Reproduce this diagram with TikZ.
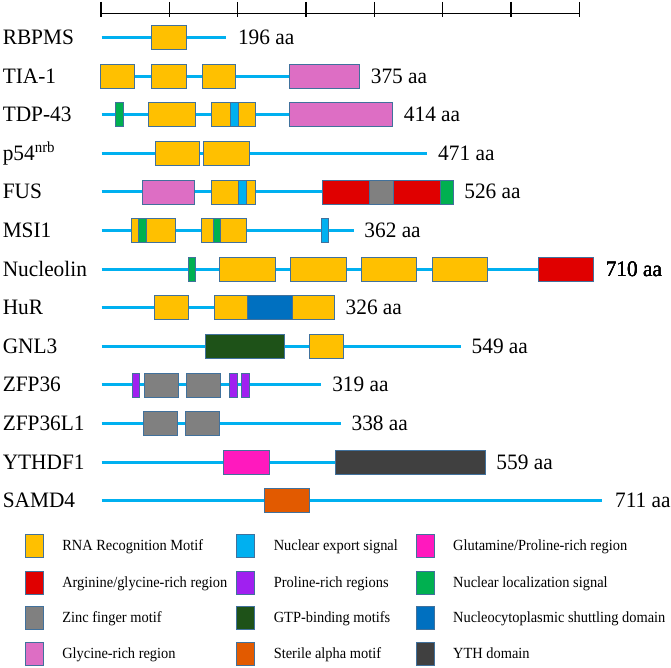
\documentclass[tikz,border=0pt]{standalone}
\usepackage{fontspec}
\setmainfont{Liberation Serif}
\newfontfamily\protfont[FakeStretch=0.97]{Liberation Serif}
\newfontfamily\keyfont[FakeStretch=0.93]{Liberation Serif}
\definecolor{rrm}{RGB}{255,192,0}
\definecolor{nes}{RGB}{0,176,240}
\definecolor{qp}{RGB}{255,25,190}
\definecolor{rg}{RGB}{224,0,0}
\definecolor{pro}{RGB}{160,32,240}
\definecolor{nls}{RGB}{0,176,80}
\definecolor{zf}{RGB}{128,128,128}
\definecolor{gtp}{RGB}{30,82,24}
\definecolor{ncs}{RGB}{0,112,192}
\definecolor{gly}{RGB}{221,110,196}
\definecolor{sam}{RGB}{226,90,0}
\definecolor{yth}{RGB}{64,64,64}
\definecolor{edge}{RGB}{65,113,156}
\tikzset{
  backbone/.style={line width=3pt, nes},
  dombox/.style={draw=edge, line width=0.8pt},
  protname/.style={anchor=base west, inner sep=0pt, font=\protfont\fontsize{22}{22}\selectfont},
  keytext/.style={anchor=base west, inner sep=0pt, font=\keyfont\fontsize{15.5}{15.5}\selectfont}
}
\newcommand{\dom}[4]{\draw[dombox, fill=#1] (#2,#4-12) rectangle (#3,#4+12);}

\begin{document}
\begin{tikzpicture}[x=1.2857pt, y=-1pt]
  \useasboundingbox (0,0) rectangle (521.9,668);

  % scale bar
  \draw[line width=1.3pt] (78.5,13.5) -- (450.5,13.5);
  \foreach \k in {0,...,7}
    \draw[line width=1.3pt] (78.5+53.14*\k,2) -- ++(0,15);

  % RBPMS
  \node[protname] (rbpms) at (2,44.6) {RBPMS};
  \draw[backbone] (79,37.6) -- (176,37.6);
  \dom{rrm}{118}{144.7}{37.6}
  \node[protname] (rbpms aa) at (185,44.6) {196 aa};

  % TIA-1
  \node[protname] (tia) at (2,83.2) {TIA-1};
  \draw[backbone] (79,76.2) -- (225,76.2);
  \dom{rrm}{78}{104.3}{76.2}
  \dom{rrm}{118}{144.7}{76.2}
  \dom{rrm}{157.3}{183.3}{76.2}
  \dom{gly}{225}{279.3}{76.2}
  \node[protname] (tia aa) at (288.3,83.2) {375 aa};

  % TDP-43
  \node[protname] (tdp) at (2,121.8) {TDP-43};
  \draw[backbone] (79,114.8) -- (225,114.8);
  \dom{nls}{90}{95.7}{114.8}
  \dom{rrm}{115.7}{152}{114.8}
  \dom{rrm}{164.7}{199}{114.8}
  \dom{nes}{179.3}{185.3}{114.8}
  \dom{gly}{225}{305}{114.8}
  \node[protname] (tdp aa) at (314,121.8) {414 aa};

  % p54nrb
  \node[protname] (p54) at (2,160.4) {p54\textsuperscript{nrb}};
  \draw[backbone] (79,153.4) -- (332,153.4);
  \dom{rrm}{120.7}{155.3}{153.4}
  \dom{rrm}{158.3}{193.7}{153.4}
  \node[protname] (p54 aa) at (340.7,160.4) {471 aa};

  % FUS
  \node[protname] (fus) at (2,199) {FUS};
  \draw[backbone] (79,192) -- (250.7,192);
  \dom{gly}{110.7}{151}{192}
  \dom{rrm}{164.7}{199}{192}
  \dom{nes}{185.7}{191.3}{192}
  \dom{rg}{250.7}{287.3}{192}
  \dom{zf}{287.3}{305.7}{192}
  \dom{rg}{305.7}{342.3}{192}
  \dom{nls}{342.3}{352.3}{192}
  \node[protname] (fus aa) at (361,199) {526 aa};

  % MSI1
  \node[protname] (msi) at (2,237.6) {MSI1};
  \draw[backbone] (79,230.6) -- (275.3,230.6);
  \dom{rrm}{102}{136.7}{230.6}
  \dom{nls}{107.7}{114}{230.6}
  \dom{rrm}{157}{192}{230.6}
  \dom{nls}{165.7}{171.3}{230.6}
  \dom{nes}{250}{255.3}{230.6}
  \node[protname] (msi aa) at (283.3,237.6) {362 aa};

  % Nucleolin
  \node[protname] (ncl) at (2,276.2) {Nucleolin};
  \draw[backbone] (79,269.2) -- (418.7,269.2);
  \dom{nls}{146.7}{152.3}{269.2}
  \foreach \a/\b in {171/214, 226/269.3, 281/324, 336/379}
    \dom{rrm}{\a}{\b}{269.2}
  \dom{rg}{418.7}{461.7}{269.2}
  \node[protname] (ncl aa) at (471,276.2) {710 aa};

  % HuR
  \node[protname] (hur) at (2,314.8) {HuR};
  \draw[backbone] (79,307.8) -- (166.7,307.8);
  \dom{rrm}{120}{146.7}{307.8}
  \dom{rrm}{166.7}{192.7}{307.8}
  \dom{ncs}{192.7}{227.7}{307.8}
  \dom{rrm}{227.7}{260}{307.8}
  \node[protname] (hur aa) at (268.7,314.8) {326 aa};

  % GNL3
  \node[protname] (gnl) at (2,353.4) {GNL3};
  \draw[backbone] (79,346.4) -- (358.3,346.4);
  \dom{gtp}{160}{221.3}{346.4}
  \dom{rrm}{240.3}{267.3}{346.4}
  \node[protname] (gnl aa) at (366.7,353.4) {549 aa};

  % ZFP36
  \node[protname] (zfp) at (2,392) {ZFP36};
  \draw[backbone] (79,385) -- (249.3,385);
  \dom{pro}{103.3}{108.7}{385}
  \dom{zf}{112.3}{139}{385}
  \dom{zf}{145}{171.7}{385}
  \dom{pro}{178.7}{184.3}{385}
  \dom{pro}{187.7}{193.7}{385}
  \node[protname] (zfp aa) at (258.3,392) {319 aa};

  % ZFP36L1
  \node[protname] (zfpl) at (2,430.6) {ZFP36L1};
  \draw[backbone] (79,423.6) -- (265,423.6);
  \dom{zf}{111.7}{138.3}{423.6}
  \dom{zf}{144.3}{170.7}{423.6}
  \node[protname] (zfpl aa) at (273.3,430.6) {338 aa};

  % YTHDF1
  \node[protname] (ythdf) at (2,469.2) {YTHDF1};
  \draw[backbone] (79,462.2) -- (261,462.2);
  \dom{qp}{174}{209.3}{462.2}
  \dom{yth}{261}{377.3}{462.2}
  \node[protname] (ythdf aa) at (386,469.2) {559 aa};

  % SAMD4
  \node[protname] (samd) at (2,507.8) {SAMD4};
  \draw[backbone] (79,500.8) -- (468.3,500.8);
  \dom{sam}{205.7}{240.7}{500.8}
  \node[protname] (samd aa) at (478.3,507.8) {711 aa};

  % legend
  \foreach \c/\x/\y/\t in {
      rrm/19.5/546/RNA Recognition Motif, rg/19.5/582.5/{Arginine/glycine-rich region},
      zf/19.5/618/Zinc finger motif, gly/19.5/653.5/Glycine-rich region,
      nes/184/546/Nuclear export signal, pro/184/582.5/Proline-rich regions,
      gtp/184/618/GTP-binding motifs, sam/184/653.5/Sterile alpha motif,
      qp/323.5/546/{Glutamine/Proline-rich region}, nls/323.5/582.5/Nuclear localization signal,
      ncs/323.5/618/Nucleocytoplasmic shuttling domain, yth/323.5/653.5/YTH domain}
  {
    \draw[dombox, fill=\c] (\x,\y-11.5) rectangle (\x+14,\y+11.5);
    \node[keytext] (key \c) at (\x+28.8,\y+5) {\t};
  }
\end{tikzpicture}
\end{document}
